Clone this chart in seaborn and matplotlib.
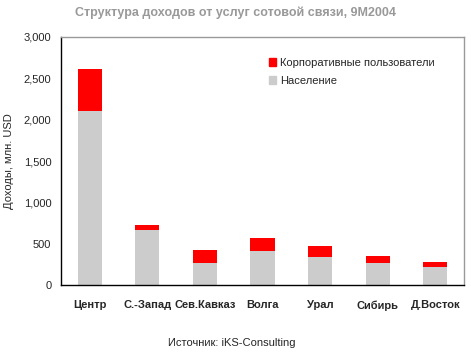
import matplotlib
matplotlib.use('Agg')
import matplotlib.pyplot as plt
import seaborn as sns
import pandas as pd
from matplotlib.patches import Patch
from matplotlib.ticker import FuncFormatter, FixedLocator

regions = ['Центр', 'С.-Запад', 'Сев.Кавказ', 'Волга', 'Урал', 'Сибирь', 'Д.Восток']
population = [2110, 670, 268, 415, 341, 268, 220]
corporate = [500, 62, 159, 158, 135, 86, 60]

df = pd.DataFrame({'region': regions, 'population': population, 'corporate': corporate})
df['total'] = df['population'] + df['corporate']

sns.set_style('white')
plt.rcParams['font.family'] = ['Liberation Sans', 'DejaVu Sans']

fig = plt.figure(figsize=(4.71, 3.52), dpi=100)
ax = fig.add_axes([0.1295, 0.19, 0.856, 0.705])

sns.barplot(data=df, x='region', y='total', color='#ff0000', width=0.42, ax=ax,
            saturation=1, linewidth=0)
sns.barplot(data=df, x='region', y='population', color='#cccccc', width=0.42, ax=ax,
            saturation=1, linewidth=0)

ax.set_ylim(0, 3000)
ax.set_xlim(-0.5, len(regions) - 0.5)
ax.yaxis.set_major_locator(FixedLocator([0, 500, 1000, 1500, 2000, 2500, 3000]))
ax.yaxis.set_major_formatter(FuncFormatter(lambda v, p: f'{int(v):,}'))
ax.set_xticks([i - 0.5 for i in range(len(regions) + 1)])
ax.set_xticklabels([])
ax.set_xticks(range(len(regions)), minor=True)
ax.set_xticklabels(regions, minor=True, fontsize=8, fontweight='bold',
                   family=['Liberation Sans Narrow', 'Liberation Sans'])
ax.tick_params(axis='x', which='minor', length=0, pad=11)
ax.tick_params(axis='x', which='major', length=4, width=0.8, direction='out', color='black')
ax.tick_params(axis='y', length=4, width=0.8, direction='out', color='black', labelsize=8, pad=3)
ax.set_xlabel('')
ax.set_ylabel('Доходы, млн. USD', fontsize=8, labelpad=7)

for s in ['left', 'bottom']:
    ax.spines[s].set_color('black')
    ax.spines[s].set_linewidth(1)
for s in ['top', 'right']:
    ax.spines[s].set_color('#999999')
    ax.spines[s].set_linewidth(1)

handles = [Patch(color='#ff0000', label='Корпоративные пользователи'),
           Patch(color='#cccccc', label='Население')]
ax.legend(handles=handles, loc='upper left', bbox_to_anchor=(0.49, 0.955), frameon=False,
          fontsize=8, handlelength=0.7, handleheight=0.7, handletextpad=0.3, labelspacing=0.7)

fig.text(0.5, 0.965, 'Структура доходов от услуг сотовой связи, 9М2004', ha='center', va='center',
         fontsize=9, fontweight='bold', color='#999999')
fig.text(0.493, 0.025, 'Источник: iKS-Consulting', ha='center', va='center', fontsize=8)

fig.savefig('out.png', dpi=100)
